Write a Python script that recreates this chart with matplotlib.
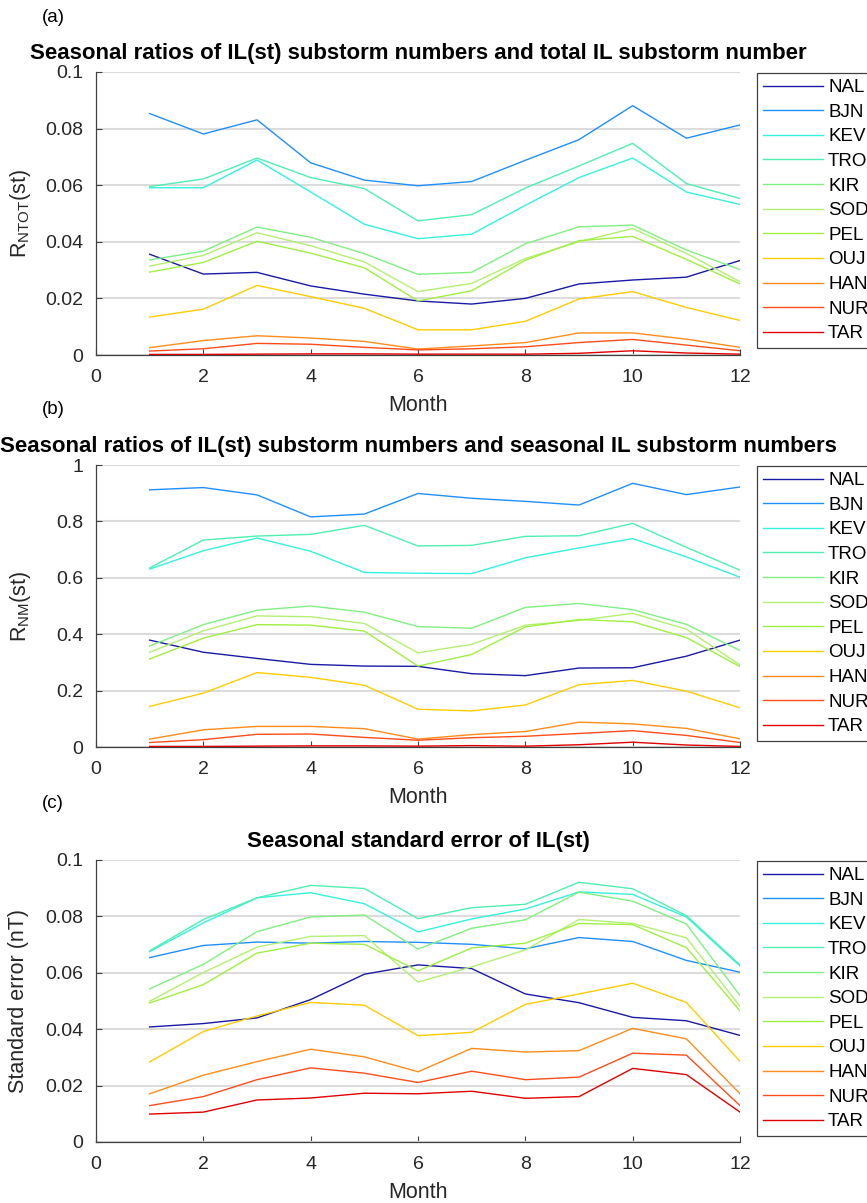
import numpy as np
import matplotlib
matplotlib.use("Agg")
import matplotlib.pyplot as plt

plt.rcParams['font.family'] = ['Liberation Sans', 'DejaVu Sans']
plt.rcParams['mathtext.fontset'] = 'custom'
plt.rcParams['mathtext.rm'] = 'Liberation Sans'
plt.rcParams['mathtext.it'] = 'Liberation Sans:italic'
plt.rcParams['mathtext.bf'] = 'Liberation Sans:bold'

months = [1, 2, 3, 4, 5, 6, 7, 8, 9, 10, 11, 12]
stations = ['NAL', 'BJN', 'KEV', 'TRO', 'KIR', 'SOD', 'PEL', 'OUJ', 'HAN', 'NUR', 'TAR']
colors = ['#1a1aa6', '#1f8fff', '#33f2e0', '#4df0b0', '#80f080', '#b3f070',
          '#a0f040', '#ffcc00', '#ff8c1a', '#ff4d1a', '#e00000']

# (a) ratio of station substorm count to total IL substorm count
r_ntot = {
    'NAL': [0.0356, 0.0286, 0.0292, 0.0244, 0.0215, 0.0191, 0.0180, 0.0200, 0.0251, 0.0265, 0.0275, 0.0334],
    'BJN': [0.0853, 0.0781, 0.0831, 0.0679, 0.0618, 0.0598, 0.0613, 0.0688, 0.0761, 0.0881, 0.0766, 0.0813],
    'KEV': [0.0591, 0.0591, 0.0689, 0.0576, 0.0462, 0.0411, 0.0427, 0.0529, 0.0627, 0.0696, 0.0576, 0.0532],
    'TRO': [0.0595, 0.0622, 0.0696, 0.0627, 0.0588, 0.0474, 0.0496, 0.0590, 0.0668, 0.0748, 0.0606, 0.0553],
    'KIR': [0.0336, 0.0367, 0.0452, 0.0416, 0.0358, 0.0285, 0.0292, 0.0393, 0.0453, 0.0459, 0.0371, 0.0302],
    'SOD': [0.0314, 0.0352, 0.0432, 0.0386, 0.0329, 0.0224, 0.0253, 0.0341, 0.0400, 0.0447, 0.0359, 0.0259],
    'PEL': [0.0293, 0.0327, 0.0402, 0.0360, 0.0308, 0.0191, 0.0227, 0.0335, 0.0404, 0.0419, 0.0338, 0.0251],
    'OUJ': [0.0134, 0.0162, 0.0246, 0.0206, 0.0165, 0.0089, 0.0089, 0.0119, 0.0198, 0.0224, 0.0168, 0.0122],
    'HAN': [0.0026, 0.0051, 0.0068, 0.0060, 0.0048, 0.0021, 0.0032, 0.0044, 0.0078, 0.0078, 0.0056, 0.0027],
    'NUR': [0.0014, 0.0022, 0.0041, 0.0038, 0.0027, 0.0018, 0.0022, 0.0029, 0.0044, 0.0055, 0.0035, 0.0015],
    'TAR': [0.0002, 0.0002, 0.0003, 0.0004, 0.0004, 0.0003, 0.0003, 0.0003, 0.0006, 0.0015, 0.0007, 0.0003],
}

# (b) ratio of station substorm count to seasonal IL substorm count
r_nm = {
    'NAL': [0.379, 0.336, 0.314, 0.293, 0.287, 0.286, 0.260, 0.253, 0.280, 0.281, 0.322, 0.379],
    'BJN': [0.912, 0.920, 0.894, 0.816, 0.826, 0.899, 0.882, 0.871, 0.858, 0.935, 0.895, 0.922],
    'KEV': [0.631, 0.696, 0.741, 0.694, 0.619, 0.616, 0.615, 0.671, 0.706, 0.739, 0.674, 0.602],
    'TRO': [0.635, 0.734, 0.748, 0.754, 0.786, 0.713, 0.715, 0.747, 0.749, 0.793, 0.708, 0.627],
    'KIR': [0.358, 0.434, 0.485, 0.500, 0.478, 0.427, 0.421, 0.495, 0.509, 0.487, 0.435, 0.342],
    'SOD': [0.336, 0.412, 0.465, 0.462, 0.438, 0.334, 0.364, 0.432, 0.449, 0.474, 0.418, 0.291],
    'PEL': [0.312, 0.386, 0.434, 0.432, 0.411, 0.287, 0.328, 0.426, 0.452, 0.444, 0.388, 0.285],
    'OUJ': [0.144, 0.191, 0.264, 0.247, 0.219, 0.134, 0.128, 0.149, 0.221, 0.236, 0.198, 0.139],
    'HAN': [0.028, 0.061, 0.073, 0.073, 0.065, 0.028, 0.044, 0.055, 0.088, 0.082, 0.066, 0.029],
    'NUR': [0.016, 0.026, 0.045, 0.046, 0.034, 0.024, 0.033, 0.038, 0.048, 0.058, 0.041, 0.016],
    'TAR': [0.002, 0.002, 0.003, 0.004, 0.004, 0.003, 0.005, 0.003, 0.008, 0.017, 0.007, 0.002],
}

# (c) standard error of IL(st), nT
std_err = {
    'NAL': [0.0408, 0.0420, 0.0440, 0.0505, 0.0595, 0.0628, 0.0615, 0.0525, 0.0494, 0.0442, 0.0430, 0.0378],
    'BJN': [0.0654, 0.0697, 0.0709, 0.0705, 0.0711, 0.0708, 0.0701, 0.0685, 0.0725, 0.0711, 0.0644, 0.0602],
    'KEV': [0.0675, 0.0777, 0.0866, 0.0884, 0.0845, 0.0745, 0.0791, 0.0826, 0.0887, 0.0878, 0.0798, 0.0624],
    'TRO': [0.0678, 0.0789, 0.0866, 0.0910, 0.0899, 0.0792, 0.0831, 0.0843, 0.0921, 0.0898, 0.0803, 0.0628],
    'KIR': [0.0543, 0.0630, 0.0746, 0.0798, 0.0805, 0.0684, 0.0758, 0.0788, 0.0886, 0.0854, 0.0773, 0.0519],
    'SOD': [0.0499, 0.0601, 0.0691, 0.0729, 0.0732, 0.0567, 0.0621, 0.0681, 0.0789, 0.0775, 0.0724, 0.0481],
    'PEL': [0.0493, 0.0558, 0.0670, 0.0705, 0.0701, 0.0607, 0.0688, 0.0705, 0.0775, 0.0771, 0.0689, 0.0465],
    'OUJ': [0.0284, 0.0392, 0.0447, 0.0495, 0.0485, 0.0377, 0.0389, 0.0488, 0.0525, 0.0563, 0.0495, 0.0286],
    'HAN': [0.0171, 0.0237, 0.0285, 0.0329, 0.0302, 0.0249, 0.0332, 0.0319, 0.0324, 0.0403, 0.0366, 0.0171],
    'NUR': [0.0129, 0.0161, 0.0221, 0.0263, 0.0244, 0.0211, 0.0251, 0.0221, 0.0230, 0.0315, 0.0308, 0.0129],
    'TAR': [0.0099, 0.0106, 0.0149, 0.0156, 0.0173, 0.0171, 0.0180, 0.0155, 0.0161, 0.0261, 0.0239, 0.0106],
}

panels = [
    dict(data=r_ntot, ylim=1e-1, yticks=[0, 0.02, 0.04, 0.06, 0.08, 0.1],
         ylabel=r'R$_{\mathrm{NTOT}}$(st)', tag='(a)', ylab_x=-0.098,
         title='Seasonal ratios of IL(st) substorm numbers and total IL substorm number'),
    dict(data=r_nm, ylim=1.0, yticks=[0, 0.2, 0.4, 0.6, 0.8, 1],
         ylabel=r'R$_{\mathrm{NM}}$(st)', tag='(b)', ylab_x=-0.098,
         title='Seasonal ratios of IL(st) substorm numbers and seasonal IL substorm numbers'),
    dict(data=std_err, ylim=1e-1, yticks=[0, 0.02, 0.04, 0.06, 0.08, 0.1],
         ylabel='Standard error (nT)', tag='(c)', ylab_x=-0.104,
         title='Seasonal standard error of IL(st)'),
]

W, H = 867, 1203
fig = plt.figure(figsize=(W / 100, H / 100), dpi=100)

ax_left, ax_right = 96, 740
ax_boxes = [(72, 355), (465, 747), (860, 1142)]
tag_y = [18, 410, 803]

for p, (top, bot), ty in zip(panels, ax_boxes, tag_y):
    ax = fig.add_axes([ax_left / W, 1 - bot / H, (ax_right - ax_left) / W, (bot - top) / H])
    for st, c in zip(stations, colors):
        ax.plot(months, p['data'][st], color=c, lw=1.0, label=st, zorder=3)
    ax.set_xlim(0, 12)
    ax.set_ylim(0, p['ylim'])
    ax.set_xticks([0, 2, 4, 6, 8, 10, 12])
    ax.set_yticks(p['yticks'])
    ax.set_yticklabels(['%g' % v for v in p['yticks']])
    ax.yaxis.grid(True, color='#dcdcdc', lw=1.5, zorder=0)
    ax.set_axisbelow(True)
    for s in ('top', 'right'):
        ax.spines[s].set_visible(False)
    for s in ('left', 'bottom'):
        ax.spines[s].set_color('#404040')
        ax.spines[s].set_linewidth(0.9)
    ax.tick_params(direction='in', length=4, width=0.8, color='#404040',
                   labelsize=14, labelcolor='#262626')
    ax.tick_params(axis='x', pad=10)
    ax.tick_params(axis='y', pad=9)
    ax.set_xlabel('Month', fontsize=15.5, color='#262626', va='top')
    ax.xaxis.set_label_coords(0.5, -0.143)
    ax.set_ylabel(p['ylabel'], fontsize=15.5, color='#262626')
    ax.yaxis.set_label_coords(p['ylab_x'], 0.5)
    ax.set_title(p['title'], fontsize=16, fontweight='bold', pad=9.5)
    leg = ax.legend(loc='upper left', bbox_to_anchor=(757 / W, 1 - (top + 1) / H),
                    bbox_transform=fig.transFigure, borderaxespad=0, fontsize=13.5,
                    handlelength=3.2, handletextpad=0.27, labelspacing=0.40,
                    borderpad=0.32, fancybox=False, framealpha=1)
    leg.get_frame().set_edgecolor('#404040')
    leg.get_frame().set_linewidth(0.9)
    fig.text(53 / W, 1 - ty / H, p['tag'], fontsize=13.5, ha='center', va='center')

fig.savefig('out.png', dpi=100)
